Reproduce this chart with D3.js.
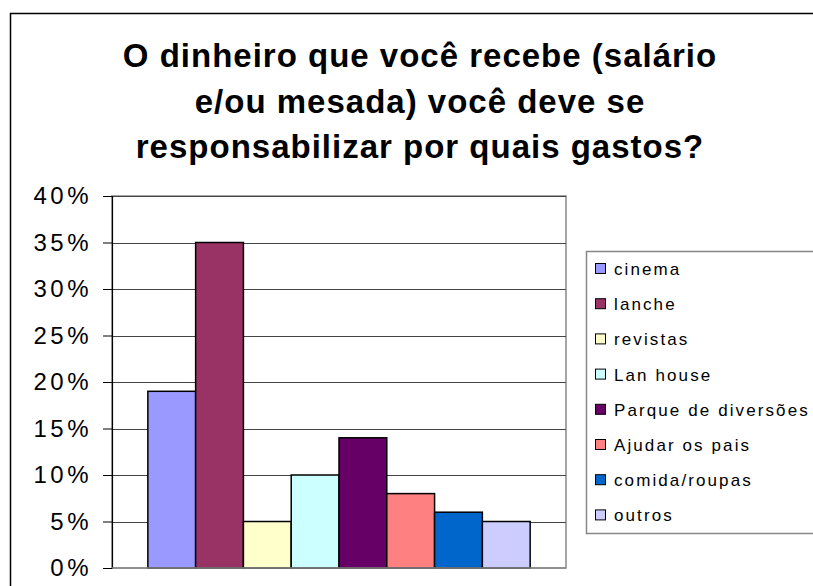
<!DOCTYPE html>
<meta charset="utf-8">
<title>Gastos</title>
<style>
body { margin: 0; background: #fff; }
svg { display: block; font-family: "Liberation Sans", Arial, sans-serif; }
</style>
<svg width="813" height="586"></svg>
<script src="https://d3js.org/d3.v7.min.js"></script>
<script>
  // data
  var categories = ["cinema", "lanche", "revistas", "Lan house", "Parque de diversões", "Ajudar os pais", "comida/roupas", "outros"]
  var values = [0.19, 0.35, 0.05, 0.10, 0.14, 0.08, 0.06, 0.05]
  var colors = ["#9999ff", "#993366", "#ffffcc", "#ccffff", "#660066", "#ff8080", "#0066cc", "#ccccff"]
  var yTicks = [0, 0.05, 0.10, 0.15, 0.20, 0.25, 0.30, 0.35, 0.40]
  var titleLines = ["O dinheiro que você recebe (salário", "e/ou mesada) você deve se", "responsabilizar por quais gastos?"]

  var svg = d3.select("svg")
  var plotL = 112, plotR = 566, plotT = 196, plotB = 568

  // chart border
  svg.append("rect")
    .attr("x", 10.5).attr("y", 13.5)
    .attr("width", 840).attr("height", 600)
    .attr("fill", "none").attr("stroke", "#000").attr("stroke-width", 1.5)

  // title
  svg.append("g").selectAll("text")
    .data(titleLines)
    .join("text")
      .attr("x", 420)
      .attr("y", (d, i) => 67 + i * 45.5)
      .attr("text-anchor", "middle")
      .attr("font-size", "33px")
      .attr("font-weight", "bold")
      .attr("letter-spacing", "1px")
      .text(d => d)

  var x = d3.scaleBand().domain(categories).range([plotL, plotR]).paddingInner(0).paddingOuter(0.75)
  var y = d3.scaleLinear().domain([0, 0.4]).range([plotB, plotT])

  // plot area border
  svg.append("rect")
    .attr("x", plotL).attr("y", plotT)
    .attr("width", plotR - plotL).attr("height", plotB - plotT)
    .attr("fill", "none").attr("stroke", "#888").attr("stroke-width", 1.5)

  // gridlines
  svg.append("g").selectAll("line")
    .data(yTicks.slice(1))
    .join("line")
      .attr("x1", plotL).attr("x2", plotR)
      .attr("y1", d => Math.round(y(d)) + 0.5).attr("y2", d => Math.round(y(d)) + 0.5)
      .attr("stroke", "#444").attr("stroke-width", 1)

  // y axis
  var yAxis = d3.axisLeft(y).tickValues(yTicks).tickFormat(d3.format(".0%")).tickSize(9).tickPadding(11)
  var ya = svg.append("g").attr("transform", "translate(" + plotL + ",0)").call(yAxis)
  ya.select(".domain").attr("stroke", "#000").attr("stroke-width", 1.2)
  ya.selectAll(".tick line").attr("stroke", "#000")
  ya.selectAll("text").attr("font-size", "24px").attr("fill", "#000")
    .attr("letter-spacing", "3.5px")
    .attr("font-family", "Liberation Sans, Arial, sans-serif")

  // bars
  svg.append("g").selectAll("rect")
    .data(values)
    .join("rect")
      .attr("x", (d, i) => x(categories[i]))
      .attr("y", d => y(d))
      .attr("width", x.bandwidth())
      .attr("height", d => y(0) - y(d))
      .attr("fill", (d, i) => colors[i])
      .attr("stroke", "#000").attr("stroke-width", 1.5)

  // x axis line
  svg.append("line")
    .attr("x1", plotL).attr("x2", plotR).attr("y1", plotB).attr("y2", plotB)
    .attr("stroke", "#888").attr("stroke-width", 1.5)

  // legend
  var lg = svg.append("g")
  lg.append("rect")
    .attr("x", 586.5).attr("y", 251.5).attr("width", 260).attr("height", 282)
    .attr("fill", "#fff").attr("stroke", "#888").attr("stroke-width", 1.5)
  var item = lg.selectAll("g.item")
    .data(categories)
    .join("g")
      .attr("class", "item")
      .attr("transform", (d, i) => "translate(0," + (269 + i * 35.2) + ")")
  item.append("rect")
    .attr("x", 595.5).attr("y", -5.5).attr("width", 10).attr("height", 10)
    .attr("fill", (d, i) => colors[i]).attr("stroke", "#000").attr("stroke-width", 1)
  item.append("text")
    .attr("x", 614).attr("y", 6)
    .attr("font-size", "17px")
    .attr("letter-spacing", "2.1px")
    .text(d => d)
</script>
